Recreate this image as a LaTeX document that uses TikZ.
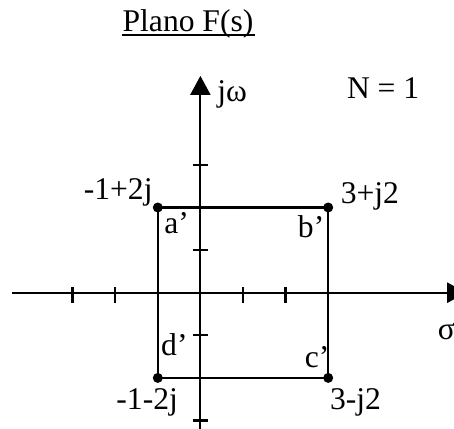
\documentclass[tikz,border=0pt]{standalone}
\usepackage{fontspec}
\setmainfont{Liberation Serif}
\usetikzlibrary{arrows.meta}
\tikzset{
	lbl/.style={inner sep=0pt, anchor=base, font=\fontsize{15.8}{19}\selectfont},
	dot/.style={circle, fill, inner sep=0pt, minimum size=5pt},
	axis/.style={-{Triangle[length=9.5pt,width=10pt]}},
}
\begin{document}
\begin{tikzpicture}[x=21.3pt, y=21.3pt, line width=1.1pt]
	\useasboundingbox (-4.704,-3.176) rectangle (5.953,6.871);
	\coordinate (xl) at (-4.42,0);
	\coordinate (xr) at (6.24,0);
	\coordinate (yb) at (0,-3.4);
	\coordinate (yt) at (0,5.09);
	\draw[axis] (xl) -- (xr);
	\draw[axis] (yb) -- (yt);
	\foreach \x in {-3,-2,1,2} \draw (\x,0.13) -- (\x,-0.23);
	\foreach \y in {-3,-1,1,3} \draw (-0.18,\y) -- (0.18,\y);
	\node[dot] (a) at (-1,2) {};
	\node[dot] (b) at (3,2) {};
	\node[dot] (c) at (3,-2) {};
	\node[dot] (d) at (-1,-2) {};
	\draw (a.center) -- (b.center) -- (c.center) -- (d.center) -- cycle;
	\node[lbl] (title) at (-0.29,6.12) {Plano F(s)};
	\draw[line width=1pt] ([yshift=-1.5pt]title.base west) -- ([yshift=-1.5pt]title.base east);
	\node[lbl] (nn) at (4.29,4.56) {N = 1};
	\node[lbl, anchor=base west] (jw) at (0.37,4.49) {jω};
	\node[lbl, anchor=base west] (sg) at (5.55,-1.09) {σ};
	\node[lbl] (pa) at (-1.93,2.19) {-1+2j};
	\node[lbl] (pb) at (3.98,2.09) {3+j2};
	\node[lbl] (pc) at (3.64,-2.75) {3-j2};
	\node[lbl] (pd) at (-1.25,-2.73) {-1-2j};
	\node[lbl] (la) at (-0.56,1.39) {a’};
	\node[lbl] (lb) at (2.60,1.30) {b’};
	\node[lbl] (lc) at (2.74,-1.76) {c’};
	\node[lbl] (ld) at (-0.61,-1.48) {d’};
\end{tikzpicture}
\end{document}
